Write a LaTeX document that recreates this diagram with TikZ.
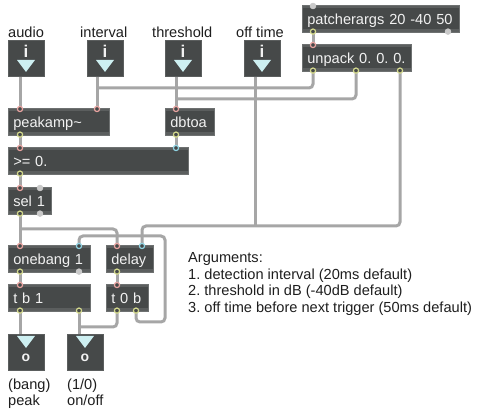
\documentclass[tikz,border=0pt]{standalone}
\usepackage{fontspec}
\setmainfont{Liberation Sans}
\frenchspacing
\definecolor{boxc}{HTML}{464949}
\definecolor{bandc}{HTML}{5B5E5E}
\definecolor{edgec}{HTML}{6E7171}
\definecolor{wirec}{HTML}{A6A6A6}
\definecolor{inc}{HTML}{E9A3A0}
\definecolor{cyanc}{HTML}{8FD3E3}
\definecolor{outc}{HTML}{D3D88C}
\definecolor{greyp}{HTML}{C9C9C9}
\definecolor{txtc}{HTML}{F2F2F2}
\definecolor{tric}{HTML}{CDEFF1}
\definecolor{lblc}{HTML}{1E1E1E}
\newcommand{\mfont}{\fontsize{14.6}{17}\selectfont\frenchspacing}
\pgfdeclarelayer{wires}
\pgfsetlayers{wires,main}
\tikzset{
  obj/.style={draw=edgec, line width=0.6pt, fill=boxc, anchor=north west,
    minimum height=27pt, inner xsep=5pt, inner ysep=6.5pt,
    text height=12.5pt, text depth=1.5pt, align=left, text=txtc, font=\mfont,
    path picture={
      \fill[bandc] (path picture bounding box.north west) rectangle ([yshift=-3pt]path picture bounding box.north east);
      \fill[bandc] (path picture bounding box.south west) rectangle ([yshift=3pt]path picture bounding box.south east);}},
  nbox/.style={draw=bandc, line width=0.6pt, fill=boxc, anchor=north west,
    minimum width=36pt, minimum height=36pt, inner sep=0pt},
  lbl/.style={anchor=base west, inner sep=0pt, text=lblc, font=\mfont},
  wire/.style={draw=wirec, line width=3pt, rounded corners=4pt},
  portin/.style={line width=1.2pt, draw=inc, fill=boxc},
  portcy/.style={line width=1.2pt, draw=cyanc, fill=boxc},
  portout/.style={line width=1.2pt, draw=outc, fill=boxc},
  portgr/.style={line width=0.8pt, draw=greyp, fill=greyp},
}
% name, x, y, width, textwidth, text
\newcommand{\mobj}[6]{\node[obj, minimum width=#4pt, text width=#5pt] (#1) at (#2,#3) {\mbox{#6}};}
\newcommand{\numbox}[3]{%
  \node[nbox] (#1) at (#2,#3) {};
  \fill[tric] ([xshift=9pt,yshift=-20pt]#1.north west) -- ([xshift=27pt,yshift=-20pt]#1.north west) -- ([xshift=18pt,yshift=-32pt]#1.north west) -- cycle;
  \node[text=txtc, font=\fontsize{17}{19}\selectfont\bfseries, inner sep=0pt] (#1-glyph) at ([xshift=18pt,yshift=-11.5pt]#1.north west) {i};
}
\newcommand{\outbox}[3]{%
  \node[nbox] (#1) at (#2,#3) {};
  \fill[tric] ([xshift=9pt,yshift=-2pt]#1.north west) -- ([xshift=27pt,yshift=-2pt]#1.north west) -- ([xshift=18pt,yshift=-14pt]#1.north west) -- cycle;
  \node[text=txtc, font=\fontsize{14}{16}\selectfont\bfseries, inner sep=0pt] (#1-glyph) at ([xshift=18pt,yshift=-24pt]#1.north west) {o};
}
\newcommand{\pin}[3]{\coordinate (#2) at ([xshift=#3pt]#1.north west);}
\newcommand{\pout}[3]{\coordinate (#2) at ([xshift=#3pt]#1.south west);}
\begin{document}
\begin{tikzpicture}[x=1pt,y=-1pt]
\useasboundingbox (0,0) rectangle (480,414);

% labels
\node[lbl] (l-audio) at (8,37.5) {audio};
\node[lbl] (l-int) at (80,37.5) {interval};
\node[lbl] (l-thr) at (152,37.5) {threshold};
\node[lbl] (l-off) at (236,37.5) {off time};

% number boxes
\numbox{audio}{8}{40}
\numbox{interval}{87}{40}
\numbox{thresh}{165}{40}
\numbox{offt}{244}{40}

% objects
\mobj{patch}{302}{5}{157}{147}{patcherargs 20 -40 50}
\mobj{unpack}{302}{44}{109}{99}{unpack 0. 0. 0.}
\mobj{peak}{8}{108}{101}{91}{peakamp\textasciitilde}
\mobj{dbtoa}{165}{108}{49}{39}{dbtoa}
\mobj{ge}{8}{147}{180}{170}{>= 0.}
\mobj{sel}{8}{187}{43}{33}{sel 1}
\mobj{onebang}{8}{245}{82}{72}{onebang 1}
\mobj{delay}{106}{245}{47}{37}{delay}
\mobj{tb}{8}{284}{82}{72}{t b 1}
\mobj{tob}{106}{284}{42}{32}{t 0 b}

% outputs
\outbox{bang}{8}{334}
\outbox{tog}{67}{334}

% bottom labels
\node[lbl] (l-bang) at (8,390) {(bang)};
\node[lbl] (l-peak) at (8,406) {peak};
\node[lbl] (l-10) at (67,390) {(1/0)};
\node[lbl] (l-onoff) at (67,406) {on/off};

% arguments
\node[lbl] (a0) at (188,263) {Arguments:};
\node[lbl] (a1) at (188,279.5) {1. detection interval (20ms default)};
\node[lbl] (a2) at (188,296) {2. threshold in dB (-40dB default)};
\node[lbl] (a3) at (188,312.5) {3. off time before next trigger (50ms default)};

% port coordinates
\pout{audio}{audio-o}{12}
\pout{interval}{interval-o}{10}
\pout{thresh}{thresh-o}{11}
\pout{offt}{offt-o}{11}
\pin{patch}{patch-i}{11}
\pout{patch}{patch-o1}{11}
\pout{patch}{patch-o2}{146}
\pin{unpack}{unpack-i}{11}
\pout{unpack}{unpack-o1}{11}
\pout{unpack}{unpack-o2}{54}
\pout{unpack}{unpack-o3}{98}
\pin{peak}{peak-i1}{12}
\pin{peak}{peak-i2}{89}
\pout{peak}{peak-o}{12}
\pin{dbtoa}{dbtoa-i}{11}
\pout{dbtoa}{dbtoa-o}{11}
\pin{ge}{ge-i1}{12}
\pin{ge}{ge-i2}{168}
\pout{ge}{ge-o}{12}
\pin{sel}{sel-i1}{12}
\pin{sel}{sel-i2}{32}
\pout{sel}{sel-o1}{12}
\pout{sel}{sel-o2}{32}
\pin{onebang}{onebang-i1}{12}
\pin{onebang}{onebang-i2}{71}
\pout{onebang}{onebang-o1}{12}
\pout{onebang}{onebang-o2}{71}
\pin{delay}{delay-i1}{11}
\pin{delay}{delay-i2}{36}
\pout{delay}{delay-o}{11}
\pin{tb}{tb-i}{12}
\pout{tb}{tb-o1}{12}
\pout{tb}{tb-o2}{71}
\pin{tob}{tob-i}{11}
\pout{tob}{tob-o1}{11}
\pout{tob}{tob-o2}{30}
\pin{bang}{bang-i}{12}
\pin{tog}{tog-i}{12}

% junctions
\coordinate (j1) at (97,88);
\coordinate (j2) at (176,99);
\coordinate (j3) at (142,226);
\coordinate (j5) at (20,229);
\coordinate (j6) at (165,236);
\coordinate (j7) at (165,322);
\coordinate (j8) at (79,327);

\begin{pgfonlayer}{wires}
\draw[wire] (audio-o) -- (peak-i1);
\draw[wire] (interval-o) -- (peak-i2);
\draw[wire] (unpack-o1) |- (j1);
\draw[wire] (thresh-o) -- (dbtoa-i);
\draw[wire] (unpack-o2) |- (j2);
\draw[wire] (unpack-o3) |- (j3) -- (delay-i2);
\draw[wire] (offt-o) -- (offt-o |- j3);
\draw[wire] (patch-o1) -- (unpack-i);
\draw[wire] (peak-o) -- (ge-i1);
\draw[wire] (dbtoa-o) -- (ge-i2);
\draw[wire] (ge-o) -- (sel-i1);
\draw[wire] (sel-o1) -- (onebang-i1);
\draw[wire] (j5) -| (delay-i1);
\draw[wire] (onebang-i2) |- (j6) -- (j7) -| (tob-o2);
\draw[wire] (onebang-o1) -- (tb-i);
\draw[wire] (delay-o) -- (tob-i);
\draw[wire] (tb-o1) -- (bang-i);
\draw[wire] (tb-o2) -- (tog-i);
\draw[wire] (tob-o1) |- (j8);
\end{pgfonlayer}

% ports
\foreach \p in {unpack-i,peak-i1,peak-i2,dbtoa-i,ge-i1,sel-i1,onebang-i1,delay-i1,tb-i,tob-i}
  \draw[portin] ([yshift=-1pt]\p) circle (2.6pt);
\foreach \p in {ge-i2,onebang-i2,delay-i2}
  \draw[portcy] ([yshift=-1pt]\p) circle (2.6pt);
\foreach \p in {patch-o1,unpack-o1,unpack-o2,unpack-o3,peak-o,dbtoa-o,ge-o,sel-o1,onebang-o1,delay-o,tb-o1,tb-o2,tob-o1,tob-o2}
  \draw[portout] ([yshift=1pt]\p) circle (2.6pt);
\foreach \p in {patch-i,sel-i2}
  \draw[portgr] ([yshift=-1pt]\p) circle (2.8pt);
\foreach \p in {patch-o2,sel-o2,onebang-o2}
  \draw[portgr] ([yshift=1pt]\p) circle (2.8pt);
\end{tikzpicture}
\end{document}
